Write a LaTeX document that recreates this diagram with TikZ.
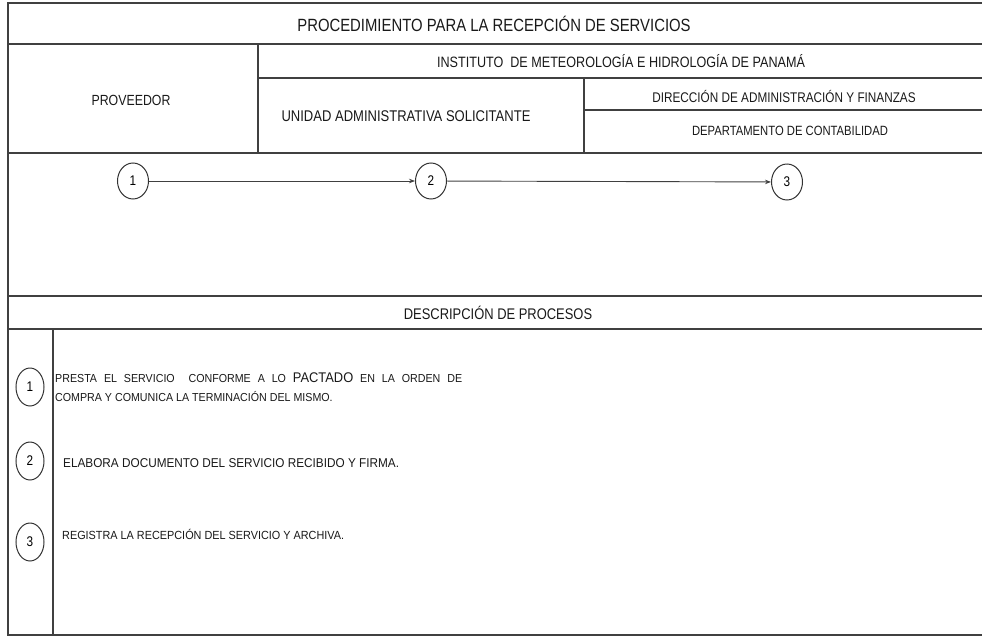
\documentclass[tikz,border=0pt]{standalone}
\usepackage{fontspec}
\setmainfont{Liberation Sans}
\newfontfamily\narrowA[FakeStretch=0.84]{Liberation Sans}
\newfontfamily\narrowB[FakeStretch=0.92]{Liberation Sans}
\usetikzlibrary{shapes.geometric,arrows.meta}
\newcommand{\fsA}[1]{\narrowA\fontsize{#1}{#1}\selectfont}
\newcommand{\fsB}[1]{\narrowB\fontsize{#1}{#1}\selectfont}
\tikzset{
  grid/.style={line width=1.1pt, draw=black!75},
  lbl/.style={inner sep=0pt, anchor=center, text=black!90},
  num/.style={ellipse, draw=black!80, line width=1pt, minimum width=31pt, minimum height=36pt, inner sep=0pt, font=\fsA{14}},
  numb/.style={ellipse, draw=black!80, line width=1pt, minimum width=28pt, minimum height=38pt, inner sep=0pt, font=\fsA{14}},
  flow/.style={line width=0.9pt, draw=black!75, -{Stealth[length=6pt,width=4.5pt]}},
  desc/.style={inner sep=0pt, anchor=base west, text=black!90}
}
\begin{document}
\begin{tikzpicture}[x=1pt,y=-1pt]
\useasboundingbox (0,0) rectangle (982,637);
% table lines
\draw[grid] (982,3) -- (8,3) -- (8,635) -- (982,635);
\draw[grid] (8,44) -- (982,44);
\draw[grid] (258,44) -- (258,153);
\draw[grid] (258,78) -- (982,78);
\draw[grid] (584,78) -- (584,153);
\draw[grid] (584,110) -- (982,110);
\draw[grid] (8,153) -- (982,153);
\draw[grid] (8,296) -- (982,296);
\draw[grid] (8,329) -- (982,329);
\draw[grid] (53,329) -- (53,635);
% header texts
\node[lbl, font=\fsA{17.7}] (title) at (494,24) {PROCEDIMIENTO PARA LA RECEPCIÓN DE SERVICIOS};
\node[lbl, font=\fsA{15}] (inst) at (621,61) {INSTITUTO\ \ DE METEOROLOGÍA E HIDROLOGÍA DE PANAMÁ};
\node[lbl, font=\fsA{14.7}] (prov) at (131,100) {PROVEEDOR};
\node[lbl, font=\fsA{15.5}] (unidad) at (406,116) {UNIDAD ADMINISTRATIVA SOLICITANTE};
\node[lbl, font=\fsA{14}] (dir) at (784,96) {DIRECCIÓN DE ADMINISTRACIÓN Y FINANZAS};
\node[lbl, font=\fsA{13.4}] (dep) at (790,131) {DEPARTAMENTO DE CONTABILIDAD};
% flow
\node[num] (c1) at (133,181) {1};
\node[num] (c2) at (431,181) {2};
\node[num] (c3) at (787,182) {3};
\draw[flow] (c1) -- (c2);
\draw[flow] (c2) -- (c3);
% description
\node[lbl, font=\fsA{15.4}] (dtitle) at (498,313) {DESCRIPCIÓN DE PROCESOS};
\node[numb] (d1) at (30,387) {1};
\node[numb] (d2) at (30,461) {2};
\node[numb] (d3) at (30,542) {3};
\node[desc, font=\fsB{11.6}] (t1a) at (55,382) {\makebox[407pt][s]{PRESTA EL SERVICIO \ CONFORME A LO {\fsB{14}PACTADO} EN LA ORDEN DE}};
\node[desc, font=\fsB{11.6}] (t1b) at (55,401) {COMPRA Y COMUNICA LA TERMINACIÓN DEL MISMO.};
\node[desc, font=\fsB{12.8}] (t2) at (63,467) {ELABORA DOCUMENTO DEL SERVICIO RECIBIDO Y FIRMA.};
\node[desc, font=\fsB{11.8}] (t3) at (62,539) {REGISTRA LA RECEPCIÓN DEL SERVICIO Y ARCHIVA.};
\end{tikzpicture}
\end{document}
